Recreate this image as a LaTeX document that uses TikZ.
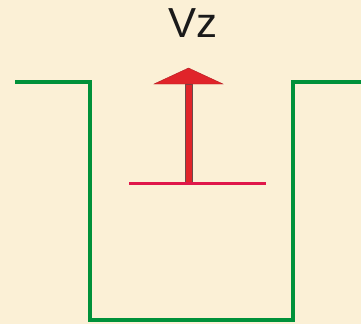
\documentclass[tikz,border=0pt]{standalone}
\usepackage{fontspec}
\setmainfont{Liberation Sans}
\definecolor{colBack}{HTML}{FBF0D6}
\definecolor{colWell}{HTML}{00913A}
\definecolor{colLevel}{HTML}{E0174A}
\definecolor{colArrow}{HTML}{E0242A}
\definecolor{colArrowEdge}{HTML}{6A4A4A}
\definecolor{colText}{HTML}{1A1A1A}

\begin{document}
\begin{tikzpicture}[
    x=1pt, y=-1pt,
    well/.style={draw=colWell, line width=4pt, miter limit=10},
    level/.style={draw=colLevel, line width=3pt},
    vecbody/.style={fill=colArrow, draw=colArrowEdge, line width=0.5pt},
    vechead/.style={fill=colArrow, draw=colArrow!80!black, line width=0.4pt},
    lbl/.style={font=\fontsize{42}{42}\selectfont, text=colText, inner sep=0pt},
]

% ---- Background ------------------------------------------------------------
\fill[colBack] (0,0) rectangle (361,324);
\useasboundingbox (0,0) rectangle (361,324);

% ---- Well outline ----------------------------------------------------------
\coordinate (wellL)  at (15,82);
\coordinate (wellTL) at (90,82);
\coordinate (wellBL) at (90,320);
\coordinate (wellBR) at (293,320);
\coordinate (wellTR) at (293,82);
\coordinate (wellR)  at (361,82);
\draw[well] (wellL) -- (wellTL) -- (wellBL) -- (wellBR) -- (wellTR) -- (wellR);

% ---- Velocity vector -------------------------------------------------------
\coordinate (base)  at (188.5,183);
\coordinate (neck)  at (188.5,84);
\coordinate (tip)   at (188.5,68);
\draw[vecbody] ([xshift=-3.5pt]base) rectangle ([xshift=3.5pt]neck);
\draw[vechead] ([xshift=-34.5pt]neck) -- (tip) -- ([xshift=34.5pt]neck) -- cycle;

% ---- Level line ------------------------------------------------------------
\coordinate (levL) at (129,183);
\coordinate (levR) at (266,183);
\draw[level] (levL) -- (levR);

% ---- Label -----------------------------------------------------------------
\node[lbl] (vz) at (193,23) {Vz};

\end{tikzpicture}
\end{document}
